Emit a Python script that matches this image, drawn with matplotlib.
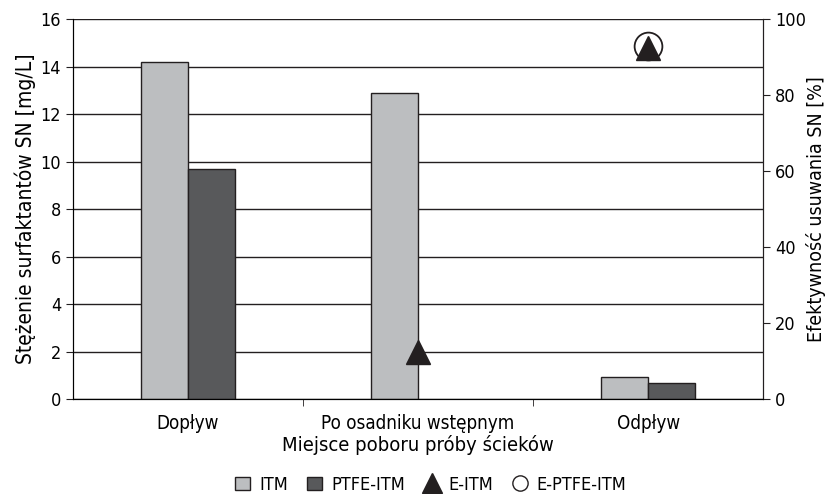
import numpy as np
import matplotlib
matplotlib.use("Agg")
import matplotlib.pyplot as plt
from matplotlib.lines import Line2D
from matplotlib.patches import Patch

plt.rcParams["font.family"] = ["DejaVu Sans"]
plt.rcParams["font.stretch"] = "condensed"
plt.rcParams["font.size"] = 13

# dane
categories = ["Dopływ", "Po osadniku wstępnym", "Odpływ"]
itm = [14.2, 12.9, 0.95]
ptfe_itm = [9.7, np.nan, 0.68]
e_itm = [np.nan, 12.5, 92.5]
e_ptfe_itm = [np.nan, np.nan, 93.0]

C_ITM = "#bcbec0"
C_PTFE = "#58595b"
C_EDGE = "#231f20"

fig = plt.figure(figsize=(8.25, 4.94), dpi=100)
ax = fig.add_axes([0.0885, 0.192, 0.8365, 0.7695])
x = np.arange(len(categories))
w = 0.205

ax.set_axisbelow(True)
ax.grid(axis="y", color=C_EDGE, linewidth=1.0)
ax.bar(x - w / 2, itm, w, color=C_ITM, edgecolor=C_EDGE, linewidth=1.0)
ax.bar(x + w / 2, ptfe_itm, w, color=C_PTFE, edgecolor=C_EDGE, linewidth=1.0)
ax.set_xlim(-0.5, 2.5)
ax.set_ylim(0, 16)
ax.set_yticks(range(0, 17, 2))
ax.set_xticks(x)
ax.set_xticklabels(categories, fontsize=13.5)
ax.set_xticks([0.5, 1.5], minor=True)
ax.tick_params(axis="x", which="major", length=0, pad=11)
ax.tick_params(axis="x", which="minor", length=5, color=C_EDGE)
ax.tick_params(axis="y", length=5, color=C_EDGE, labelsize=13)
ax.set_xlabel("Miejsce poboru próby ścieków", fontsize=14.5, labelpad=1)
ax.set_ylabel("Stężenie surfaktantów SN [mg/L]", fontsize=15, labelpad=3)
ax.spines["top"].set_visible(False)
for s in ("left", "bottom", "right"):
    ax.spines[s].set_color(C_EDGE)

ax2 = ax.twinx()
ax2.set_ylim(0, 100)
ax2.set_yticks(range(0, 101, 20))
ax2.plot(x, e_ptfe_itm, "o", ms=20, mfc="white", mec=C_EDGE, mew=1.3,
         linestyle="none", zorder=3)
ax2.plot(x, e_itm, "^", ms=17.5, color=C_EDGE, linestyle="none", zorder=4)
ax2.set_ylabel("Efektywność usuwania SN [%]", fontsize=14, labelpad=0)
ax2.tick_params(axis="y", length=5, color=C_EDGE, labelsize=13)
ax2.spines["top"].set_visible(False)
ax2.spines["right"].set_color(C_EDGE)

handles = [
    Patch(facecolor=C_ITM, edgecolor=C_EDGE, label="ITM"),
    Patch(facecolor=C_PTFE, edgecolor=C_EDGE, label="PTFE-ITM"),
    Line2D([], [], marker="^", ms=14, color=C_EDGE, linestyle="none", label="E-ITM"),
    Line2D([], [], marker="o", ms=11, mfc="white", mec=C_EDGE, linestyle="none",
           label="E-PTFE-ITM"),
]
fig.legend(handles=handles, loc="lower center", ncol=4, frameon=False,
           bbox_to_anchor=(0.522, -0.032), handlelength=0.8, handletextpad=0.5,
           columnspacing=1.1, fontsize=13)

fig.savefig("out.png", dpi=100)
